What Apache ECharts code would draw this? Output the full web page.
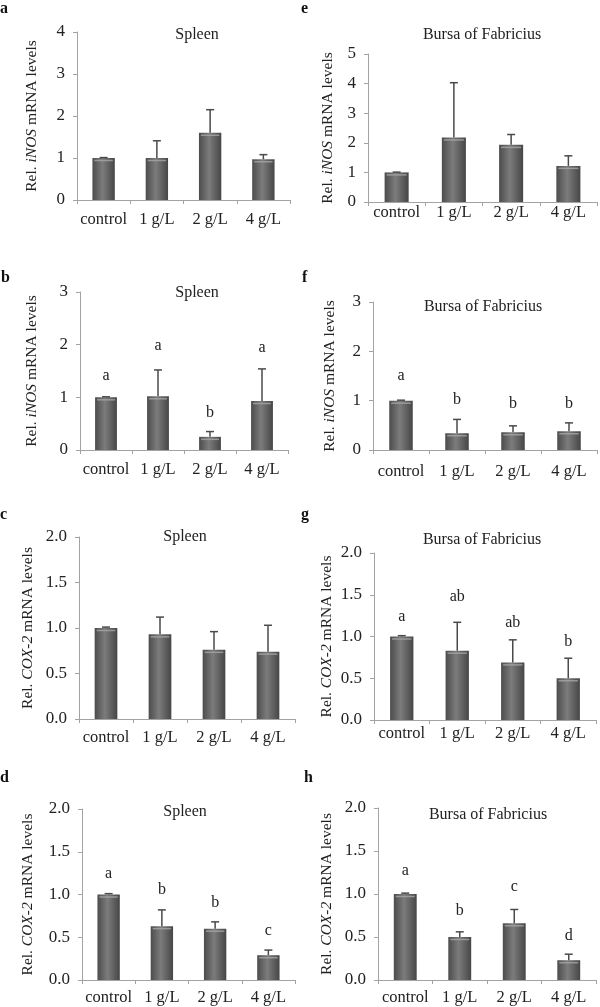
<!DOCTYPE html>
<html>
<head>
<meta charset="utf-8">
<script src="https://cdn.jsdelivr.net/npm/echarts@6/dist/echarts.min.js"></script>
<style>
  html, body { margin: 0; padding: 0; background: #fff; }
  #main { width: 600px; height: 1007px; }
</style>
</head>
<body>
<div id="main"></div>
<script>
var categories = ['control', '1 g/L', '2 g/L', '4 g/L'];

// a: spleen iNOS (exp 1)
var aMean = [1.00, 1.00, 1.60, 0.97];
var aSd   = [0.01, 0.41, 0.55, 0.11];
// e: bursa iNOS (exp 1)
var eMean = [1.00, 2.18, 1.93, 1.22];
var eSd   = [0.01, 1.85, 0.35, 0.34];
// b: spleen iNOS (exp 2)
var bMean = [1.00, 1.02, 0.25, 0.93];
var bSd   = [0.01, 0.50, 0.10, 0.61];
var bSig  = ['a', 'a', 'b', 'a'];
var bSigY = [1.41, 1.98, 0.70, 1.95];
// f: bursa iNOS (exp 2)
var fMean = [1.00, 0.34, 0.36, 0.38];
var fSd   = [0.01, 0.28, 0.13, 0.17];
var fSig  = ['a', 'b', 'b', 'b'];
var fSigY = [1.50, 1.01, 0.93, 0.93];
// c: spleen COX-2 (exp 1)
var cMean = [1.00, 0.93, 0.76, 0.74];
var cSd   = [0.01, 0.19, 0.20, 0.29];
// g: bursa COX-2 (exp 1)
var gMean = [1.00, 0.83, 0.69, 0.50];
var gSd   = [0.01, 0.34, 0.27, 0.24];
var gSig  = ['a', 'ab', 'ab', 'b'];
var gSigY = [1.23, 1.47, 1.16, 0.94];
// d: spleen COX-2 (exp 2)
var dMean = [1.00, 0.63, 0.60, 0.29];
var dSd   = [0.01, 0.19, 0.08, 0.06];
var dSig  = ['a', 'b', 'b', 'c'];
var dSigY = [1.24, 1.06, 0.90, 0.57];
// h: bursa COX-2 (exp 2)
var hMean = [1.00, 0.50, 0.66, 0.23];
var hSd   = [0.01, 0.06, 0.16, 0.07];
var hSig  = ['a', 'b', 'c', 'd'];
var hSigY = [1.27, 0.81, 1.08, 0.51];

var panels = [
  { tag: 'a', tissue: 'Spleen', gene: 'iNOS', mean: aMean, sd: aSd, max: 4, step: 1, dec: 0 },
  { tag: 'e', tissue: 'Bursa of Fabricius', gene: 'iNOS', mean: eMean, sd: eSd, max: 5, step: 1, dec: 0 },
  { tag: 'b', tissue: 'Spleen', gene: 'iNOS', mean: bMean, sd: bSd, sig: bSig, sigY: bSigY, max: 3, step: 1, dec: 0 },
  { tag: 'f', tissue: 'Bursa of Fabricius', gene: 'iNOS', mean: fMean, sd: fSd, sig: fSig, sigY: fSigY, max: 3, step: 1, dec: 0 },
  { tag: 'c', tissue: 'Spleen', gene: 'COX-2', mean: cMean, sd: cSd, max: 2, step: 0.5, dec: 1 },
  { tag: 'g', tissue: 'Bursa of Fabricius', gene: 'COX-2', mean: gMean, sd: gSd, sig: gSig, sigY: gSigY, max: 2, step: 0.5, dec: 1 },
  { tag: 'd', tissue: 'Spleen', gene: 'COX-2', mean: dMean, sd: dSd, sig: dSig, sigY: dSigY, max: 2, step: 0.5, dec: 1 },
  { tag: 'h', tissue: 'Bursa of Fabricius', gene: 'COX-2', mean: hMean, sd: hSd, sig: hSig, sigY: hSigY, max: 2, step: 0.5, dec: 1 }
];

// pixel layout of each panel (same order as panels)
var layout = [
  { grid: [77, 32, 213, 168],  gap: 37, xm: 11, title: [197, 27],  tag: [0, 1] },
  { grid: [368, 54, 229, 148], gap: 32, xm: 2,  title: [482, 27],  tag: [301, 1] },
  { grid: [80, 292, 208, 158], gap: 40, xm: 11, title: [197, 285], tag: [1, 270] },
  { grid: [373, 302, 224, 148], gap: 35, xm: 13, title: [483, 299], tag: [302, 270] },
  { grid: [79, 537, 216, 182], gap: 43, xm: 10, title: [185, 529], tag: [0, 507] },
  { grid: [374, 553, 222, 167], gap: 39, xm: 5,  title: [482, 532], tag: [301, 507] },
  { grid: [82, 809, 213, 171], gap: 46, xm: 9,  title: [185, 804], tag: [0, 770] },
  { grid: [378, 808, 218, 172], gap: 43, xm: 9,  title: [488, 807], tag: [304, 770] }
];

var FONT = '"Liberation Serif", "DejaVu Serif", serif';
var axisGray = '#a3a3a3';
var BAR_W = 0.42;
var barFill = new echarts.graphic.LinearGradient(0, 0, 1, 0, [
  { offset: 0, color: '#4c4c4c' },
  { offset: 0.45, color: '#7c7c7c' },
  { offset: 1, color: '#464646' }
]);

function errRender(p) {
  return function (params, api) {
    var i = params.dataIndex;
    var base = api.coord([i, p.mean[i]]);
    var top = api.coord([i, p.mean[i] + p.sd[i]]);
    var half = api.size([1, 0])[0] * BAR_W / 2;
    var kids = [
      // light sheen just under the bar top
      { type: 'line', shape: { x1: base[0] - half + 2, y1: base[1] + 2.5, x2: base[0] + half - 2, y2: base[1] + 2.5 },
        style: { stroke: '#a8a8a8', lineWidth: 1.5, opacity: 0.8 } },
      { type: 'line', shape: { x1: base[0], y1: base[1], x2: top[0], y2: top[1] },
        style: { stroke: '#4a4a4a', lineWidth: 1.5 } },
      { type: 'line', shape: { x1: top[0] - 4, y1: top[1], x2: top[0] + 4, y2: top[1] },
        style: { stroke: '#4a4a4a', lineWidth: 1.5 } }
    ];
    if (p.sig) {
      var lp = api.coord([i, p.sigY[i]]);
      kids.push({ type: 'text', x: lp[0], y: lp[1],
        style: { text: p.sig[i], align: 'center', verticalAlign: 'middle',
                 fontSize: 16, fontFamily: FONT, fill: '#222' } });
    }
    return { type: 'group', children: kids };
  };
}

var option = { animation: false, backgroundColor: '#fff', title: [], grid: [], xAxis: [], yAxis: [], series: [] };

panels.forEach(function (p, k) {
  var L = layout[k];
  option.grid.push({ left: L.grid[0], top: L.grid[1], width: L.grid[2], height: L.grid[3] });
  option.title.push({
    text: p.tissue, left: L.title[0], top: L.title[1], textAlign: 'center', padding: 0,
    textStyle: { fontFamily: FONT, fontSize: 16, fontWeight: 'normal', color: '#222' }
  });
  option.title.push({
    text: p.tag, left: L.tag[0], top: L.tag[1], padding: 0,
    textStyle: { fontFamily: FONT, fontSize: 16, fontWeight: 'bold', color: '#111' }
  });
  option.xAxis.push({
    type: 'category', gridIndex: k, data: categories,
    axisLine: { lineStyle: { color: axisGray, width: 1 } },
    axisTick: { show: true, length: 4, lineStyle: { color: axisGray } },
    axisLabel: { fontFamily: FONT, fontSize: 16.5, color: '#222', margin: L.xm, interval: 0 }
  });
  option.yAxis.push({
    type: 'value', gridIndex: k, min: 0, max: p.max, interval: p.step,
    name: '{n|Rel. }{i|' + p.gene + '}{n| mRNA levels}',
    nameLocation: 'middle', nameGap: L.gap,
    nameTextStyle: {
      rich: {
        n: { fontFamily: FONT, fontSize: 15.5, color: '#222' },
        i: { fontFamily: FONT, fontSize: 15.5, fontStyle: 'italic', color: '#222' }
      }
    },
    axisLine: { show: true, lineStyle: { color: axisGray, width: 1 } },
    axisTick: { show: true, length: 4, lineStyle: { color: axisGray } },
    splitLine: { show: false },
    axisLabel: {
      fontFamily: FONT, fontSize: 17, color: '#222', margin: 12,
      formatter: function (v) { return v.toFixed(p.dec); }
    }
  });
  option.series.push({
    type: 'bar', xAxisIndex: k, yAxisIndex: k, data: p.mean, barWidth: (BAR_W * 100) + '%',
    itemStyle: { color: barFill }
  });
  option.series.push({
    type: 'custom', xAxisIndex: k, yAxisIndex: k, z: 3,
    data: p.mean.map(function (m, i) { return [i, m]; }),
    renderItem: errRender(p)
  });
});

var chart = echarts.init(document.getElementById('main'));
chart.setOption(option);
</script>
</body>
</html>
